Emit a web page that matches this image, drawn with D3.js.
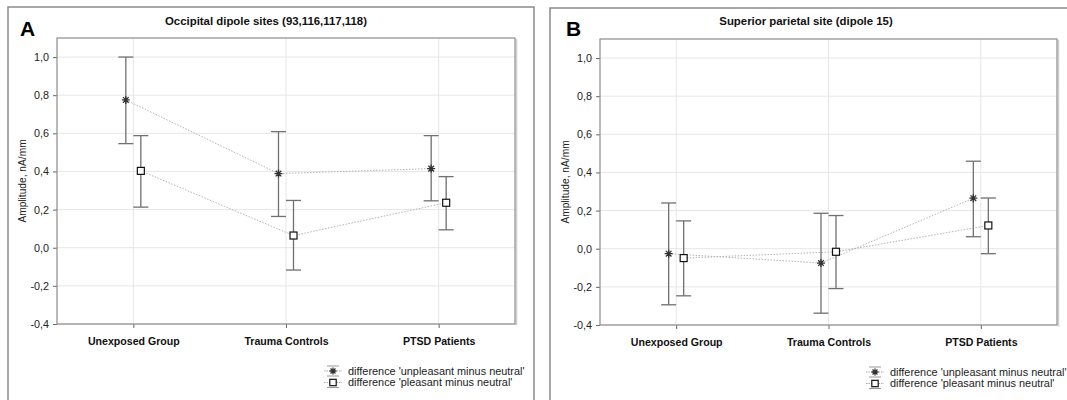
<!DOCTYPE html>
<html>
<head>
<meta charset="utf-8">
<script src="https://cdn.jsdelivr.net/npm/d3@7/dist/d3.min.js"></script>
<style>
  html, body { margin: 0; padding: 0; background: #fff; }
  svg { display: block; font-family: "Liberation Sans", Arial, sans-serif; }
</style>
</head>
<body>
<svg id="chart" width="1067" height="400"></svg>
<script>
// Categories and tick values
const groups = ["Unexposed Group", "Trauma Controls", "PTSD Patients"];
const yTicks = [-0.4, -0.2, 0.0, 0.2, 0.4, 0.6, 0.8, 1.0];
const seriesNames = ["difference 'unpleasant minus neutral'", "difference 'pleasant minus neutral'"];

// Panel A: occipital dipole sites — means and confidence limits
const occUnpMean = [0.775, 0.389, 0.415];
const occUnpLow  = [0.546, 0.164, 0.246];
const occUnpHigh = [1.000, 0.609, 0.588];
const occPlsMean = [0.403, 0.064, 0.236];
const occPlsLow  = [0.213, -0.117, 0.094];
const occPlsHigh = [0.588, 0.248, 0.373];

// Panel B: superior parietal site — means and confidence limits
const parUnpMean = [-0.026, -0.075, 0.265];
const parUnpLow  = [-0.294, -0.338, 0.063];
const parUnpHigh = [0.240, 0.186, 0.459];
const parPlsMean = [-0.049, -0.016, 0.122];
const parPlsLow  = [-0.247, -0.209, -0.026];
const parPlsHigh = [0.146, 0.174, 0.266];

const svg = d3.select("#chart");
const fmt = v => d3.format(".1f")(v).replace(".", ",").replace("−", "-");

function series(mean, low, high) {
  return groups.map((g, i) => ({ group: g, mean: mean[i], low: low[i], high: high[i] }));
}

function starPath(r) {
  const p = d3.path();
  for (let k = 0; k < 4; k++) {
    const a = k * Math.PI / 4;
    p.moveTo(-r * Math.cos(a), -r * Math.sin(a));
    p.lineTo(r * Math.cos(a), r * Math.sin(a));
  }
  return p.toString();
}

function drawMarker(g, kind, x, y, size) {
  if (kind === 0) {
    g.append("path").attr("d", starPath(size))
      .attr("transform", `translate(${x},${y})`)
      .attr("stroke", "#333").attr("stroke-width", 1.3).attr("fill", "none");
  } else {
    g.append("rect").attr("x", x - size).attr("y", y - size)
      .attr("width", 2 * size).attr("height", 2 * size)
      .attr("fill", "#fff").attr("stroke", "#111").attr("stroke-width", 1.2);
  }
}

function panel(cfg) {
  const g = svg.append("g");
  // outer frame
  g.append("rect").attr("x", cfg.frame[0]).attr("y", cfg.frame[1])
    .attr("width", cfg.frame[2]).attr("height", cfg.frame[3])
    .attr("fill", "none").attr("stroke", "#8a8a8a").attr("stroke-width", 1.5);

  const [L, T, R, B] = cfg.plot;
  const x = d3.scalePoint().domain(groups).range([L, R]).padding(0.5);
  const y = d3.scaleLinear().domain([-0.4, 1.1]).range([B, T]);
  const off = d3.scalePoint().domain([0, 1]).range([-7.5, 7.5]);

  // grid
  g.append("g").selectAll("line").data(yTicks).join("line")
    .attr("x1", L).attr("x2", R).attr("y1", d => y(d)).attr("y2", d => y(d))
    .attr("stroke", "#e6e6e6").attr("stroke-width", 1);
  g.append("g").selectAll("line").data(groups).join("line")
    .attr("x1", d => x(d)).attr("x2", d => x(d)).attr("y1", T).attr("y2", B)
    .attr("stroke", "#e6e6e6").attr("stroke-width", 1);

  // axes
  const ya = g.append("g").attr("transform", `translate(${L},0)`)
    .call(d3.axisLeft(y).tickValues(yTicks).tickFormat(fmt).tickSize(4).tickPadding(4));
  ya.select(".domain").remove();
  ya.selectAll("line").attr("stroke", "#666");
  ya.selectAll("text").attr("font-size", 10.8).attr("fill", "#222")
    .attr("font-family", "Liberation Sans, Arial, sans-serif");

  const xa = g.append("g").attr("transform", `translate(0,${B})`)
    .call(d3.axisBottom(x).tickSize(4).tickPadding(9));
  xa.select(".domain").remove();
  xa.selectAll("line").attr("stroke", "#666");
  xa.selectAll("text").attr("font-size", 10.6).attr("font-weight", "bold").attr("fill", "#111")
    .attr("font-family", "Liberation Sans, Arial, sans-serif");

  // plot box with a faint shadow on the right
  g.append("line").attr("x1", R + 1.5).attr("x2", R + 1.5).attr("y1", T + 1).attr("y2", B + 1.5)
    .attr("stroke", "#cfcfcf").attr("stroke-width", 1.5);
  g.append("rect").attr("x", L).attr("y", T).attr("width", R - L).attr("height", B - T)
    .attr("fill", "none").attr("stroke", "#8c8c8c").attr("stroke-width", 1.2);

  // titles
  g.append("text").attr("x", cfg.titleX).attr("y", 25).attr("text-anchor", "middle")
    .attr("font-size", 11.4).attr("font-weight", "bold").attr("fill", "#111").text(cfg.title);
  g.append("text").attr("x", cfg.letterX).attr("y", 36)
    .attr("font-size", 21).attr("font-weight", "bold").attr("fill", "#000").text(cfg.letter);
  g.append("text").attr("transform", `translate(${L - 31},${(T + B) / 2}) rotate(-90)`)
    .attr("text-anchor", "middle").attr("font-size", 10.2).attr("fill", "#222")
    .text("Amplitude, nA/mm");

  const data = [series(...cfg.s0), series(...cfg.s1)];
  const px = (d, k) => x(d.group) + off(k);

  // connecting dotted lines
  data.forEach((s, k) => {
    g.append("path").datum(s)
      .attr("d", d3.line().x(d => px(d, k)).y(d => y(d.mean)))
      .attr("fill", "none").attr("stroke", "#b4b4b4").attr("stroke-width", 1)
      .attr("stroke-dasharray", "1.5,1.5");
  });

  // error bars and markers
  data.forEach((s, k) => {
    s.forEach(d => {
      const cx = px(d, k);
      g.append("line").attr("x1", cx).attr("x2", cx).attr("y1", y(d.low)).attr("y2", y(d.high))
        .attr("stroke", "#707070").attr("stroke-width", 1.3);
      [d.low, d.high].forEach(v => {
        g.append("line").attr("x1", cx - 7.5).attr("x2", cx + 7.5).attr("y1", y(v)).attr("y2", y(v))
          .attr("stroke", "#707070").attr("stroke-width", 1.3);
      });
    });
    s.forEach(d => drawMarker(g, k, px(d, k), y(d.mean), k === 0 ? 4 : 3.5));
  });

  // legend
  const lg = g.append("g").attr("transform", `translate(${cfg.legend[0]},${cfg.legend[1]})`);
  seriesNames.forEach((name, k) => {
    const ly = k * 11.5;
    lg.append("line").attr("x1", -9).attr("x2", 9).attr("y1", ly).attr("y2", ly)
      .attr("stroke", "#a8a8a8").attr("stroke-width", 1).attr("stroke-dasharray", "1.5,1");
    lg.append("line").attr("x1", -6).attr("x2", 6).attr("y1", ly + 5).attr("y2", ly + 5)
      .attr("stroke", "#999").attr("stroke-width", 1);
    if (k === 0) lg.append("line").attr("x1", -6).attr("x2", 6).attr("y1", ly - 5).attr("y2", ly - 5)
      .attr("stroke", "#999").attr("stroke-width", 1);
    drawMarker(lg, k, 0, ly, k === 0 ? 3.5 : 3.2);
    lg.append("text").attr("x", 15).attr("y", ly + 3.8).attr("font-size", 10.9).attr("fill", "#222")
      .text(name);
  });
}

panel({
  frame: [8, 7, 526, 420],
  plot: [57, 38, 515, 324],
  title: "Occipital dipole sites (93,116,117,118)", titleX: 266,
  letter: "A", letterX: 20,
  s0: [occUnpMean, occUnpLow, occUnpHigh],
  s1: [occPlsMean, occPlsLow, occPlsHigh],
  legend: [333, 371]
});

panel({
  frame: [550, 8, 540, 420],
  plot: [600, 39, 1057, 325],
  title: "Superior parietal site (dipole 15)", titleX: 806,
  letter: "B", letterX: 566,
  s0: [parUnpMean, parUnpLow, parUnpHigh],
  s1: [parPlsMean, parPlsLow, parPlsHigh],
  legend: [875, 372]
});
</script>
</body>
</html>
